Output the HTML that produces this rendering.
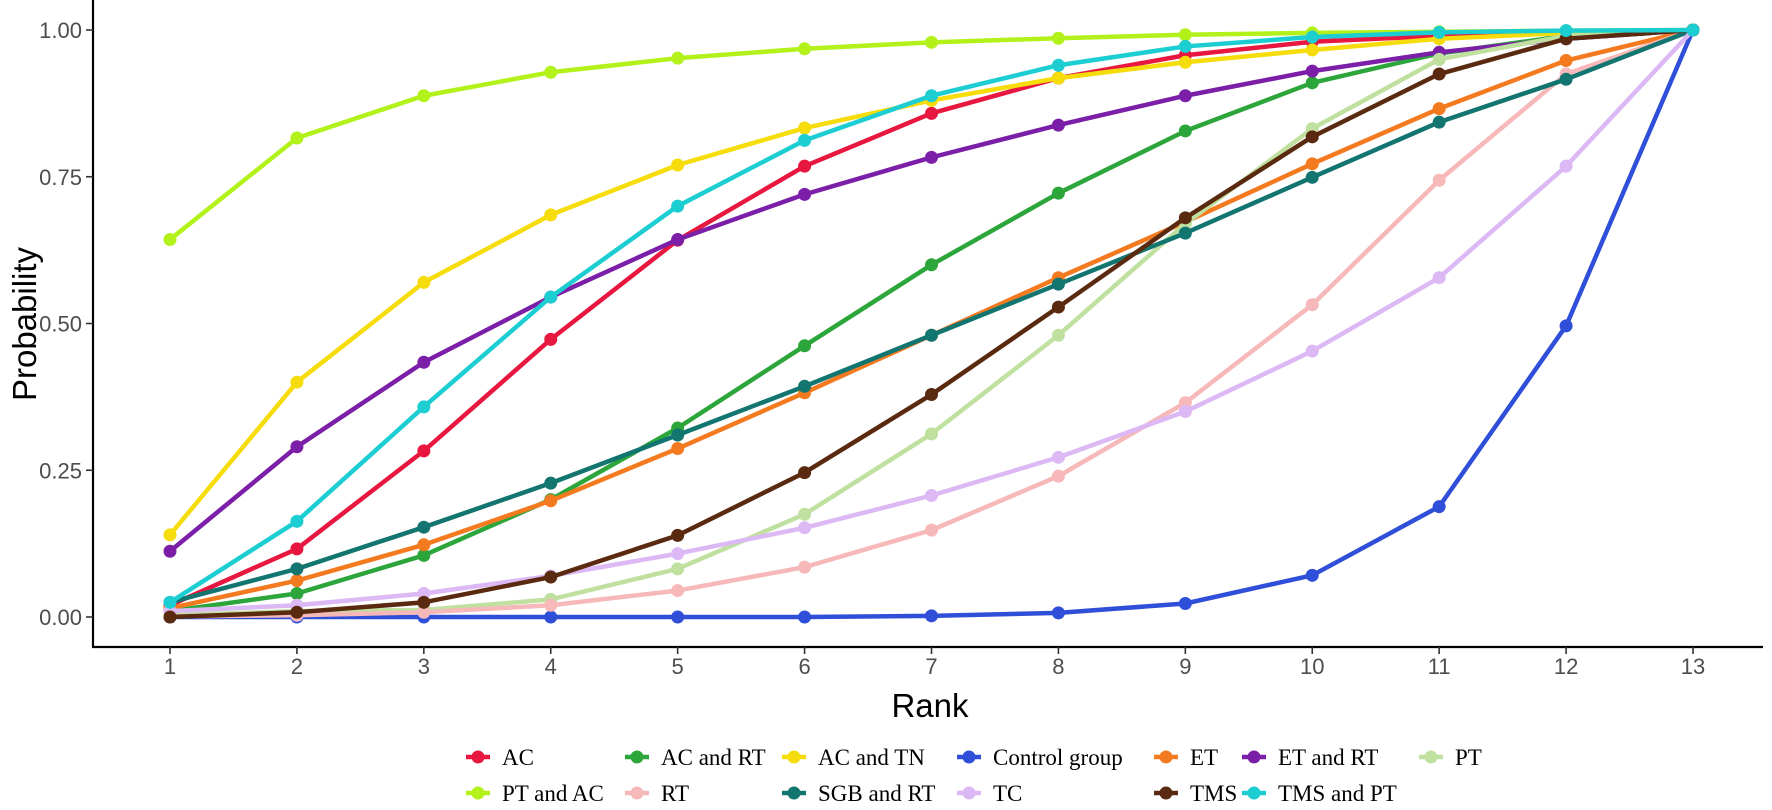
<!DOCTYPE html>
<html><head><meta charset="utf-8"><style>
body{margin:0;background:#fff}
svg text{font-family:"Liberation Sans",sans-serif}
</style></head><body>
<svg id="chart" width="1772" height="805" xmlns="http://www.w3.org/2000/svg">
<g id="axes"></g><g id="series"></g><g id="legend"></g>
</svg>
<script>
const ranks=[1,2,3,4,5,6,7,8,9,10,11,12,13];
const yTicks=[0,0.25,0.5,0.75,1];
const yTickLabels=["0.00","0.25","0.50","0.75","1.00"];
const seriesNames=["AC","AC and RT","AC and TN","Control group","ET","ET and RT","PT","PT and AC","RT","SGB and RT","TC","TMS","TMS and PT"];
const seriesColors=["#e8173f","#2ca53a","#f5dc0a","#2f4fd8","#f47a20","#7b1fa8","#c0e0a0","#b2f21a","#f6b8b8","#137570","#dcb8f4","#5a2a10","#1ccdd2"];
const vAC=[0.02,0.116,0.283,0.473,0.642,0.768,0.858,0.918,0.957,0.98,0.99,0.997,1];
const vACRT=[0.01,0.04,0.105,0.2,0.322,0.462,0.6,0.722,0.828,0.91,0.96,0.99,1];
const vACTN=[0.14,0.4,0.57,0.685,0.77,0.833,0.88,0.918,0.945,0.966,0.985,0.995,1];
const vCtrl=[0,0,0,0,0,0,0.002,0.007,0.023,0.071,0.188,0.496,1];
const vET=[0.015,0.062,0.123,0.198,0.287,0.382,0.48,0.578,0.673,0.772,0.866,0.948,1];
const vETRT=[0.112,0.29,0.434,0.545,0.643,0.72,0.783,0.838,0.888,0.93,0.962,0.985,1];
const vPT=[0.003,0.01,0.012,0.03,0.082,0.175,0.312,0.48,0.67,0.832,0.95,0.99,1];
const vPTAC=[0.643,0.816,0.888,0.928,0.952,0.968,0.979,0.986,0.992,0.995,0.997,0.999,1];
const vRT=[0.001,0.003,0.008,0.02,0.045,0.085,0.148,0.24,0.365,0.532,0.744,0.925,1];
const vSGB=[0.025,0.082,0.153,0.228,0.31,0.393,0.48,0.567,0.654,0.749,0.843,0.916,1];
const vTC=[0.01,0.02,0.04,0.07,0.108,0.152,0.207,0.272,0.35,0.453,0.578,0.768,1];
const vTMS=[0,0.008,0.025,0.068,0.139,0.246,0.379,0.528,0.68,0.818,0.925,0.985,1];
const vTMSPT=[0.025,0.163,0.358,0.545,0.7,0.812,0.888,0.94,0.972,0.988,0.996,0.999,1];
const seriesValues=[vAC,vACRT,vACTN,vCtrl,vET,vETRT,vPT,vPTAC,vRT,vSGB,vTC,vTMS,vTMSPT];

const NS="http://www.w3.org/2000/svg";
const X0=170,X1=1693,Y0=617,Y1=30,AX=93,AY=647,AR=1763;
const xS=r=>X0+(r-1)*(X1-X0)/12;
const yS=v=>Y0-v*(Y0-Y1);
function mk(tag,attrs,parent,text){const e=document.createElementNS(NS,tag);for(const k in attrs)e.setAttribute(k,attrs[k]);if(text!==undefined)e.textContent=text;parent.appendChild(e);return e;}
const axes=document.getElementById('axes');
let el=mk('line',{x1:AX,y1:0,x2:AX,y2:AY,stroke:'#000','stroke-width':2.2},axes);


el=mk('line',{x1:AX-1,y1:AY,x2:AR,y2:AY,stroke:'#000','stroke-width':2.2},axes);


yTicks.forEach((t,i)=>{
  el=mk('line',{x1:86,y1:yS(t),x2:AX,y2:yS(t),stroke:'#333','stroke-width':1.6},axes);
  
  
  el=mk('text',{x:82,y:yS(t)+8,'text-anchor':'end','font-size':22,fill:'#4d4d4d'},axes,yTickLabels[i]);
  
  
});
ranks.forEach(r=>{
  el=mk('line',{x1:xS(r),y1:AY,x2:xS(r),y2:AY+7,stroke:'#333','stroke-width':1.6},axes);
  
  
  el=mk('text',{x:xS(r),y:674,'text-anchor':'middle','font-size':22,fill:'#4d4d4d'},axes,String(r));
  
  
});
el=mk('text',{x:930,y:717,'text-anchor':'middle','font-size':33,fill:'#000'},axes,'Rank');


el=mk('text',{x:0,y:0,'text-anchor':'middle','font-size':33,fill:'#000',transform:'translate(36,324) rotate(-90)'},axes,'Probability');



const sg=document.getElementById('series');
seriesValues.forEach((vals,i)=>{
  const g=mk('g',{},sg);
  
  
  const pts=vals.map((v,j)=>xS(ranks[j])+','+yS(v)).join(' ');
  el=mk('polyline',{points:pts,fill:'none',stroke:seriesColors[i],'stroke-width':4.5,'stroke-linejoin':'round'},g);
  
  
  vals.forEach((v,j)=>{
    el=mk('circle',{cx:xS(ranks[j]),cy:yS(v),r:6.5,fill:seriesColors[i]},g);
    
    
  });
});

const lg=document.getElementById('legend');
const colX=[478,637,794,969,1166,1254,1431];
const order=[[0,1,2,3,4,5,6],[7,8,9,10,11,12]];
order.forEach((row,ri)=>{
  const y=757+ri*36;
  row.forEach((idx,ci)=>{
    const g=mk('g',{},lg);
    
    
    const x=colX[ci];
    mk('line',{x1:x-12,y1:y,x2:x+12,y2:y,stroke:seriesColors[idx],'stroke-width':4.5},g);
    mk('circle',{cx:x,cy:y,r:6.5,fill:seriesColors[idx]},g);
    el=mk('text',{x:x+24,y:y+8,'font-size':23,fill:'#000',style:'font-family:"Liberation Serif",serif'},g,seriesNames[idx]);
    
    
  });
});
</script>
</body></html>
